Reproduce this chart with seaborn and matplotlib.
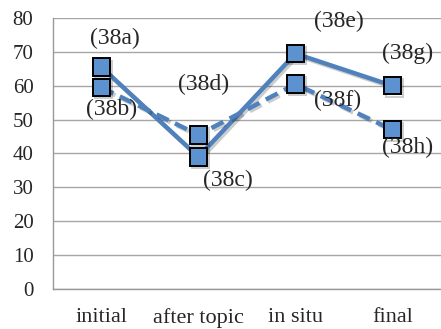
import pandas as pd
import matplotlib.pyplot as plt
import matplotlib.patheffects as pe
import seaborn as sns

# === Data ===
stages = ["initial", "after topic", "in situ", "final"]
solid_vals = [65.5, 39, 69.5, 60]
dashed_vals = [59.5, 45.5, 60.5, 47]
solid_labels = ["(38a)", "(38c)", "(38e)", "(38g)"]
dashed_labels = ["(38b)", "(38d)", "(38f)", "(38h)"]

df = pd.DataFrame({
    "pos": list(range(len(stages))) * 2,
    "value": solid_vals + dashed_vals,
    "series": ["solid"] * 4 + ["dashed"] * 4,
})

# === Plotting config ===
sns.set_style("white")
plt.rcParams["font.family"] = ["Liberation Serif", "DejaVu Serif"]
blue = "#4f81bd"
fill = "#5b92cf"

fig = plt.figure(figsize=(4.41, 3.29), dpi=100)
ax = fig.add_axes([0.12, 0.122, 0.88, 0.823])

sns.lineplot(data=df, x="pos", y="value", style="series",
             dashes={"solid": "", "dashed": (3, 1.6)}, color=blue,
             linewidth=3.2, markers={"solid": "s", "dashed": "s"},
             markersize=12.5, markerfacecolor=fill, markeredgecolor="black",
             markeredgewidth=1.4, legend=False, ax=ax)

for line in ax.lines:
    line.set_path_effects([pe.SimpleLineShadow(offset=(1.5, -1.5), alpha=0.2), pe.Normal()])

# annotations (text offsets in points)
offsets = {
    "(38a)": (10, 21), "(38b)": (7, -16), "(38c)": (21, -17), "(38d)": (4, 36),
    "(38e)": (31, 23), "(38f)": (30, -12), "(38g)": (11, 23), "(38h)": (11, -13),
}
for i, (lab, v) in enumerate(zip(solid_labels, solid_vals)):
    ax.annotate(lab, (i, v), xytext=offsets[lab], textcoords="offset points",
                ha="center", va="center", fontsize=17)
for i, (lab, v) in enumerate(zip(dashed_labels, dashed_vals)):
    ax.annotate(lab, (i, v), xytext=offsets[lab], textcoords="offset points",
                ha="center", va="center", fontsize=17)

# axes formatting
ax.set_xlim(-0.5, 3.5)
ax.set_ylim(0, 80)
ax.set_yticks(range(0, 81, 10))
ax.set_xticks(range(len(stages)))
ax.set_xticklabels(stages)
ax.set_xticks([-0.5, 0.5, 1.5, 2.5, 3.5], minor=True)
ax.tick_params(axis="x", which="major", length=0, pad=13.5, labelsize=16)
ax.tick_params(axis="x", which="minor", length=5, color="#999999", width=1)
ax.tick_params(axis="y", length=4, color="#999999", labelsize=15, pad=10)
ax.set_xlabel("")
ax.set_ylabel("")
ax.yaxis.grid(True, color="#a6a6a6", linewidth=1)
ax.set_axisbelow(True)
for s in ["top", "right"]:
    ax.spines[s].set_visible(False)
for s in ["left", "bottom"]:
    ax.spines[s].set_color("#999999")
    ax.spines[s].set_linewidth(1)

plt.savefig("out.png", dpi=100)
